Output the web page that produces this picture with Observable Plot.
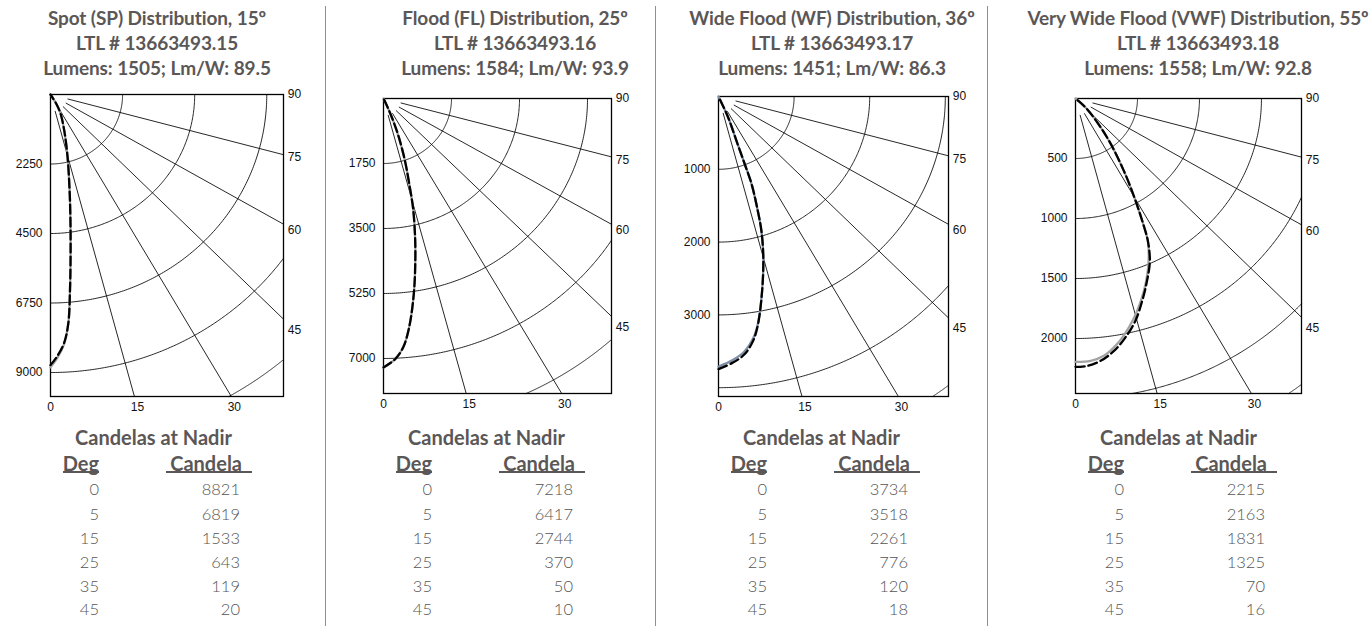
<!DOCTYPE html>
<html><head><meta charset="utf-8">
<script src="https://cdn.jsdelivr.net/npm/d3@7"></script>
<script src="https://cdn.jsdelivr.net/npm/@observablehq/plot@0.6"></script>
<style>
body{margin:0;background:#fff;}
#root{position:relative;width:1372px;height:626px;overflow:hidden;font-family:Lato,"Open Sans",sans-serif;}
.t{position:absolute;white-space:nowrap;}
.title{font-weight:700;font-size:19px;color:#5b5757;line-height:24px;height:24px;transform:translateX(-50%);letter-spacing:-0.1px;}
.hdr{font-weight:700;font-size:20px;color:#5b5757;line-height:22px;height:22px;}
.row{font-weight:300;font-size:16.5px;color:#555;line-height:20px;height:20px;}
.sep{position:absolute;width:1px;background:#8f8f8f;}
.ul{position:absolute;height:1.5px;background:#5b5757;}
</style></head><body><div id="root"></div>
<script>
// ---- text ----
const titleLines = ["Spot (SP) Distribution, 15º", "Flood (FL) Distribution, 25º", "Wide Flood (WF) Distribution, 36º", "Very Wide Flood (VWF) Distribution, 55º"];
const ltlLines = ["LTL # 13663493.15", "LTL # 13663493.16", "LTL # 13663493.17", "LTL # 13663493.18"];
const lumenLines = ["Lumens: 1505; Lm/W: 89.5", "Lumens: 1584; Lm/W: 93.9", "Lumens: 1451; Lm/W: 86.3", "Lumens: 1558; Lm/W: 92.8"];
// ---- nadir tables ----
const tableDeg = [0, 5, 15, 25, 35, 45];
const spCandela = [8821, 6819, 1533, 643, 119, 20];
const flCandela = [7218, 6417, 2744, 370, 50, 10];
const wfCandela = [3734, 3518, 2261, 776, 120, 18];
const vwfCandela = [2215, 2163, 1831, 1325, 70, 16];
// ---- axis ticks ----
const spTicks = [2250, 4500, 6750, 9000];
const flTicks = [1750, 3500, 5250, 7000];
const wfTicks = [1000, 2000, 3000];
const vwfTicks = [500, 1000, 1500, 2000];
const rightAngleTicks = [90, 75, 60, 45];
const bottomAngleTicks = [0, 15, 30];
const rayAngles = [15, 30, 45, 60, 75];
// ---- polar curves (degrees from nadir, candela) ----
const spAngles = [0, 1.4, 3, 4.3, 5.5, 6.8, 8.5, 10.9, 14.8, 20.3, 27, 31, 40];
const spDashed = [8760, 8480, 8060, 7420, 6350, 5290, 4220, 3150, 2080, 1230, 690, 340, 0];
const spSolid  = [8830, 8540, 8090, 7430, 6350, 5290, 4220, 3150, 2080, 1230, 690, 340, 0];
const flAngles = [0, 2.4, 4.3, 6.1, 8.4, 10.6, 12.5, 14.5, 15.8, 18.2, 20.7, 22.6, 24, 30];
const flDashed = [7240, 7030, 6725, 6200, 5330, 4450, 3740, 3030, 2490, 1770, 1120, 650, 260, 0];
const flSolid  = [7240, 7030, 6725, 6200, 5330, 4450, 3740, 3030, 2490, 1770, 1120, 650, 260, 0];
const wfAngles = [0, 3, 5.6, 7.8, 9.5, 12.2, 15, 17.1, 18.5, 20, 20.5, 21.3, 24, 30];
const wfDashed = [3745, 3660, 3555, 3385, 3170, 2730, 2290, 1930, 1610, 1280, 990, 655, 315, 0];
const wfSolid  = [3710, 3625, 3520, 3360, 3160, 2730, 2290, 1930, 1610, 1280, 990, 655, 315, 0];
const vwfDashedAngles = [0, 2.4, 5.3, 8.4, 11.4, 14.6, 17.7, 20.8, 23.9, 26.2, 27.3, 29.6, 32.9, 38.1, 46.6, 55];
const vwfDashed = [2236, 2230, 2195, 2126, 2032, 1915, 1770, 1625, 1480, 1322, 1210, 981, 718, 413, 129, 0];
const vwfSolidAngles = [0, 3.2, 6.1, 9.3, 12.7, 15.7, 19, 22.1, 24.5, 26.2, 27.3, 29.6, 32.9, 38.1, 46.6, 55];
const vwfSolid = [2194, 2189, 2156, 2074, 1956, 1838, 1695, 1550, 1425, 1322, 1210, 981, 718, 413, 129, 0];

// ---- layout ----
const panels = [
  {left:50,  top:94, w:233, h:302, xMax:7272, yMax:9776, step:2250, ticks:spTicks, table:spCandela,
   dA:spAngles, dV:spDashed, sA:spAngles, sV:spSolid, gray:"#a3a3a3", titleX:157},
  {left:383, top:98, w:228, h:295, xMax:5867, yMax:7943, step:1750, ticks:flTicks, table:flCandela,
   dA:flAngles, dV:flDashed, sA:flAngles, sV:flSolid, gray:"#a3a3a3", titleX:515},
  {left:718, top:96, w:230, h:300, xMax:3042, yMax:4121, step:1000, ticks:wfTicks, table:wfCandela,
   dA:wfAngles, dV:wfDashed, sA:wfAngles, sV:wfSolid, gray:"#7d8da4", titleX:832},
  {left:1075,top:98, w:226, h:295, xMax:1823, yMax:2458, step:500, ticks:vwfTicks, table:vwfCandela,
   dA:vwfDashedAngles, dV:vwfDashed, sA:vwfSolidAngles, sV:vwfSolid, gray:"#a3a3a3", titleX:1198}
];
const separators = [325, 655, 987];
const rad = d => d * Math.PI / 180;
const root = document.getElementById("root");

function addDiv(cls, text, left, top) {
  const d = document.createElement("div");
  d.className = "t " + cls;
  d.textContent = text;
  d.style.left = left + "px";
  d.style.top = top + "px";
  root.appendChild(d);
  return d;
}
function addRight(cls, text, right, top) {
  const d = addDiv(cls, text, 0, top);
  d.style.left = "auto";
  d.style.right = (1372 - right) + "px";
  return d;
}

panels.forEach((p, i) => {
  const mL = 45, mR = 32, mT = 10, mB = 22;
  const pxX = p.w / p.xMax, pxY = p.h / p.yMax;
  const diag = Math.hypot(p.xMax, p.yMax);
  const arcs = [];
  for (let k = 1; k * p.step < diag; k++) {
    const r = k * p.step;
    const a0 = r > p.yMax ? Math.acos(p.yMax / r) : 0;
    const a1 = r > p.xMax ? Math.asin(p.xMax / r) : Math.PI / 2;
    const n = 160;
    for (let j = 0; j <= n; j++) {
      const a = a0 + (a1 - a0) * j / n;
      arcs.push({k, x: r * Math.sin(a), y: r * Math.cos(a)});
    }
  }
  const r0 = 17 / pxY;
  const rays = rayAngles.map(d => {
    const a = rad(d);
    const t = Math.min(p.xMax / Math.sin(a), p.yMax / Math.cos(a));
    return {x1: r0 * Math.sin(a), y1: r0 * Math.cos(a), x2: t * Math.sin(a), y2: t * Math.cos(a)};
  });
  const leftLabels = p.ticks.map(v => ({x: 0, y: v, label: String(v)}));
  const rightLabels = rightAngleTicks.map(d => {
    const a = rad(d);
    const x = p.xMax + 11 / pxX;
    return {x, y: x * Math.cos(a) / Math.sin(a), label: String(d)};
  });
  const bottomLabels = bottomAngleTicks.map(d => ({x: p.yMax * Math.tan(rad(d)) + (d > 0 ? 3 / pxX : 0), y: p.yMax, label: String(d)}));
  const polar = (angles, vals) => angles.map((a, j) => ({x: vals[j] * Math.sin(rad(a)), y: vals[j] * Math.cos(rad(a))}));
  const solid = polar(p.sA, p.sV);
  const dashed = polar(p.dA, p.dV);

  const svg = Plot.plot({
    width: mL + p.w + mR,
    height: mT + p.h + mB,
    marginLeft: mL, marginRight: mR, marginTop: mT, marginBottom: mB,
    x: {domain: [0, p.xMax], axis: null},
    y: {domain: [0, p.yMax], reverse: true, axis: null},
    style: {fontFamily: "'Liberation Sans', Arial, sans-serif", fontSize: "12px", color: "#111", background: "transparent", overflow: "visible"},
    marks: [
      Plot.line(arcs, {x: "x", y: "y", z: "k", stroke: "#000", strokeWidth: 0.85}),
      Plot.link(rays, {x1: "x1", y1: "y1", x2: "x2", y2: "y2", stroke: "#000", strokeWidth: 0.85}),
      Plot.frame({stroke: "#000", strokeWidth: 1.3}),
      Plot.line(solid, {x: "x", y: "y", curve: "catmull-rom", stroke: p.gray, strokeWidth: 2.3}),
      Plot.line(dashed, {x: "x", y: "y", curve: "catmull-rom", stroke: "#000", strokeWidth: 2.3, strokeDasharray: "9,4"}),
      Plot.text(leftLabels, {x: "x", y: "y", text: "label", textAnchor: "end", dx: -8, fill: "#111"}),
      Plot.text(rightLabels, {x: "x", y: "y", text: "label", textAnchor: "middle", fill: "#111"}),
      Plot.text(bottomLabels, {x: "x", y: "y", text: "label", textAnchor: "middle", dy: 11, fill: "#111"})
    ]
  });
  svg.style.position = "absolute";
  svg.style.left = (p.left - mL) + "px";
  svg.style.top = (p.top - mT) + "px";
  svg.style.maxWidth = "none";
  root.appendChild(svg);

  // titles
  [titleLines[i], ltlLines[i], lumenLines[i]].forEach((s, j) => addDiv("title", s, p.titleX, 6 + 25 * j));

  // table
  const L = p.left;
  const h = addDiv("hdr", "Candelas at Nadir", L + 103.5, 426);
  h.style.transform = "translateX(-50%)";
  addRight("hdr", "Deg", L + 49, 452);
  addRight("hdr", "Candela", L + 192, 452);
  const u1 = document.createElement("div"); u1.className = "ul";
  u1.style.left = (L + 13) + "px"; u1.style.top = "471px"; u1.style.width = "36px"; root.appendChild(u1);
  const u2 = document.createElement("div"); u2.className = "ul";
  u2.style.left = (L + 116) + "px"; u2.style.top = "471px"; u2.style.width = "86px"; root.appendChild(u2);
  const rowY = [489, 514, 538, 562, 586, 609];
  tableDeg.forEach((d, j) => {
    addRight("row", String(d), L + 49, rowY[j] - 10);
    addRight("row", String(p.table[j]), L + 190, rowY[j] - 10);
  });
});

separators.forEach(x => {
  const s = document.createElement("div");
  s.className = "sep";
  s.style.left = x + "px"; s.style.top = "6px"; s.style.height = "620px";
  root.appendChild(s);
});
</script>
</body></html>
